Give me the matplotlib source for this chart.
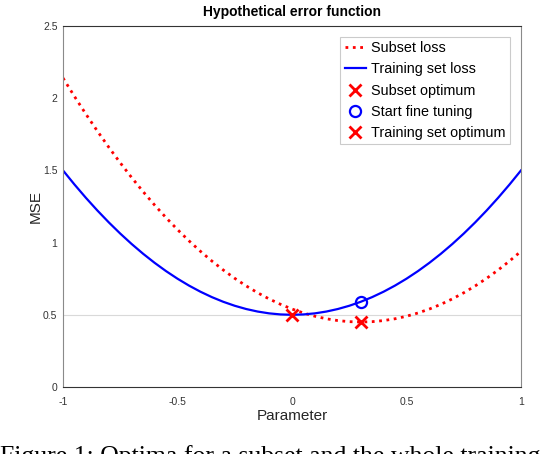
import matplotlib
matplotlib.use("Agg")
import matplotlib.pyplot as plt

plt.rcParams['font.family'] = ['Liberation Sans', 'DejaVu Sans']

# values
param = [-1.00, -0.95, -0.90, -0.85, -0.80, -0.75, -0.70, -0.65, -0.60, -0.55,
         -0.50, -0.45, -0.40, -0.35, -0.30, -0.25, -0.20, -0.15, -0.10, -0.05,
         0.00, 0.05, 0.10, 0.15, 0.20, 0.25, 0.30, 0.35, 0.40, 0.45,
         0.50, 0.55, 0.60, 0.65, 0.70, 0.75, 0.80, 0.85, 0.90, 0.95, 1.00]
subset_loss = [2.14, 2.0125, 1.89, 1.7725, 1.66, 1.5525, 1.45, 1.3525, 1.26, 1.1725,
               1.09, 1.0125, 0.94, 0.8725, 0.81, 0.7525, 0.70, 0.6525, 0.61, 0.5725,
               0.54, 0.5125, 0.49, 0.4725, 0.46, 0.4525, 0.45, 0.4525, 0.46, 0.4725,
               0.49, 0.5125, 0.54, 0.5725, 0.61, 0.6525, 0.70, 0.7525, 0.81, 0.8725, 0.94]
train_loss = [1.50, 1.4025, 1.31, 1.2225, 1.14, 1.0625, 0.99, 0.9225, 0.86, 0.8025,
              0.75, 0.7025, 0.66, 0.6225, 0.59, 0.5625, 0.54, 0.5225, 0.51, 0.5025,
              0.50, 0.5025, 0.51, 0.5225, 0.54, 0.5625, 0.59, 0.6225, 0.66, 0.7025,
              0.75, 0.8025, 0.86, 0.9225, 0.99, 1.0625, 1.14, 1.2225, 1.31, 1.4025, 1.50]

subset_opt = (0.3, 0.45)
start_ft = (0.3, 0.59)
train_opt = (0.0, 0.5)

xticks = [-1, -0.5, 0, 0.5, 1]
xtick_labels = ['-1', '-0.5', '0', '0.5', '1']
yticks = [0, 0.5, 1, 1.5, 2, 2.5]
ytick_labels = ['0', '0.5', '1', '1.5', '2', '2.5']

fig = plt.figure(figsize=(5.54, 4.54), dpi=100)
ax = fig.add_axes([63/554, 67/454, 458/554, 361/454])

ax.axhline(0.5, color='#d9d9d9', linewidth=0.8, zorder=0)

ax.plot(param, subset_loss, color='red', linestyle=':', linewidth=2, label='Subset loss')
ax.plot(param, train_loss, color='blue', linewidth=1.6, label='Training set loss')
ax.plot(*subset_opt, linestyle='none', marker='x', color='red', markersize=8,
        markeredgewidth=2, label='Subset optimum')
ax.plot(*start_ft, linestyle='none', marker='o', markerfacecolor='none',
        markeredgecolor='blue', markersize=8, markeredgewidth=1.6, label='Start fine tuning')
ax.plot(*train_opt, linestyle='none', marker='x', color='red', markersize=8,
        markeredgewidth=2, label='Training set optimum')

ax.set_xlim(-1, 1)
ax.set_ylim(0, 2.5)
ax.set_xticks(xticks)
ax.set_xticklabels(xtick_labels)
ax.set_yticks(yticks)
ax.set_yticklabels(ytick_labels)
ax.tick_params(direction='in', length=0, labelsize=7.5, colors='#333333',
               top=False, right=False)
ax.tick_params(axis='x', pad=7)
ax.tick_params(axis='y', pad=4)

for side in ['left', 'right']:
    ax.spines[side].set_color('#8a8a8a')
for side in ['top', 'bottom']:
    ax.spines[side].set_color('#333333')
for sp in ax.spines.values():
    sp.set_linewidth(0.8)

ax.set_xlabel('Parameter', fontsize=11, color='#262626', labelpad=2)
ax.set_ylabel('MSE', fontsize=11, color='#262626')
ax.yaxis.set_label_coords(-0.045, 0.5)
ax.set_title('Hypothetical error function', fontsize=10, fontweight='bold', pad=7)

leg = ax.legend(loc='upper right', fontsize=10.4, frameon=True, fancybox=False,
                borderpad=0.3, labelspacing=0.5, handlelength=1.5, handletextpad=0.35,
                borderaxespad=0.75)
leg.get_frame().set_edgecolor('#bfbfbf')
leg.get_frame().set_linewidth(0.8)

fig.text(0.0, 1 - 445/454, 'Figure 1: Optima for a subset and the whole training',
         fontsize=18.5, family=['Liberation Serif', 'DejaVu Serif'], va='top', ha='left')

fig.savefig('out.png', dpi=100)
